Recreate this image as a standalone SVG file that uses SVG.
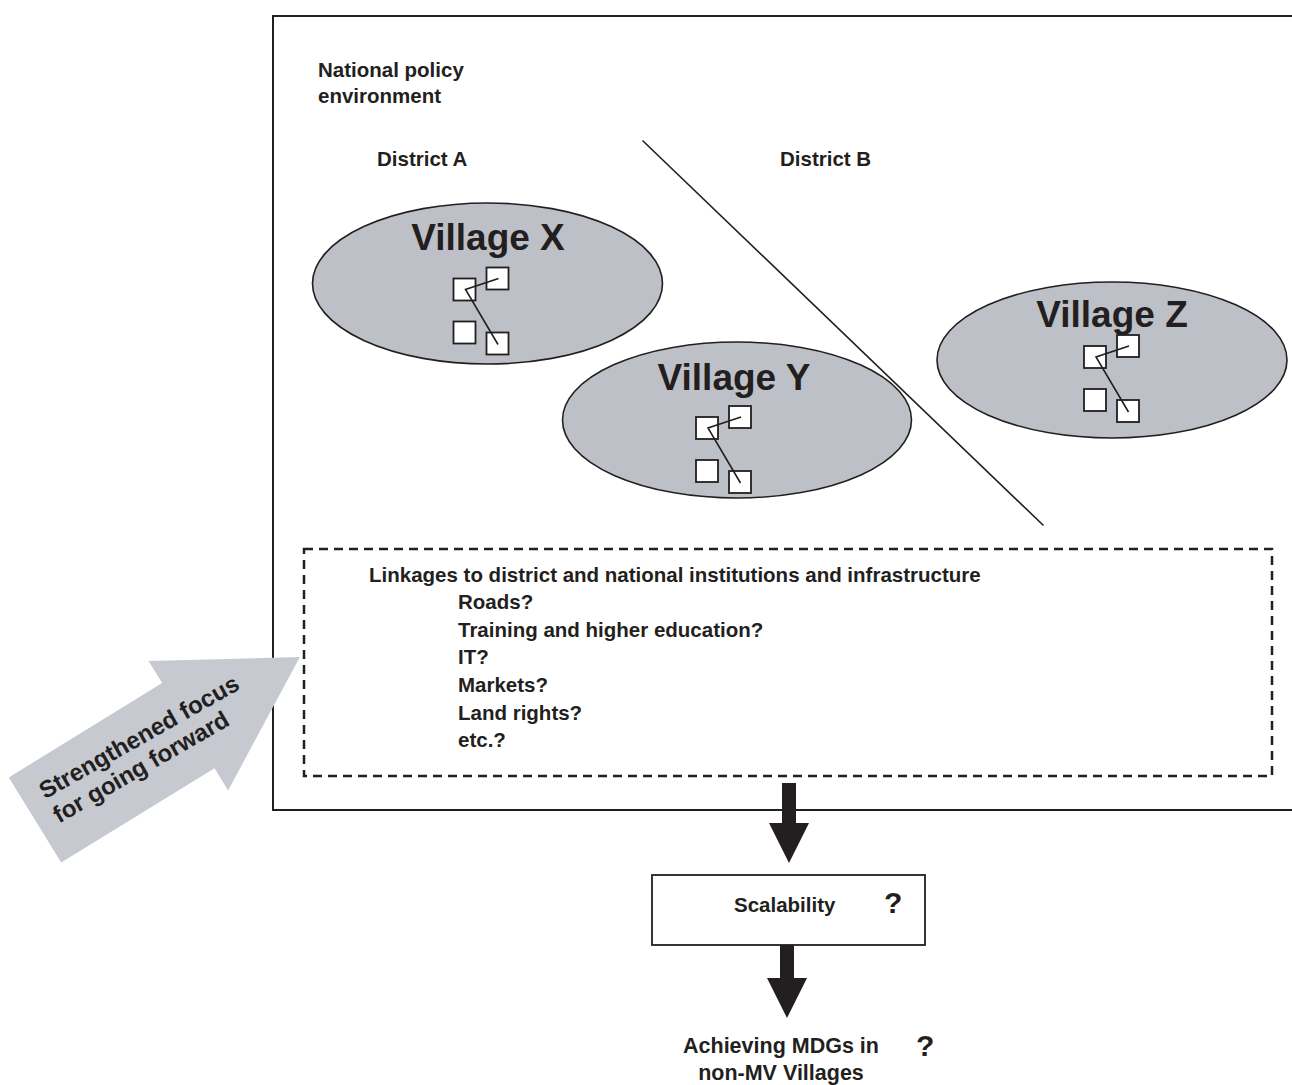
<svg xmlns="http://www.w3.org/2000/svg" width="1292" height="1085" viewBox="0 0 1292 1085">
<style>
text{font-family:"Liberation Sans",Arial,sans-serif;font-weight:bold;fill:#231f20}
.t{font-size:20.5px}
.vt{font-size:37px;text-anchor:middle}
.q{font-size:30px}
.ell{fill:#bec0c7;stroke:#231f20;stroke-width:1.6}
.sq{fill:#fff;stroke:#231f20;stroke-width:1.8}
.ln{stroke:#231f20;stroke-width:1.6;fill:none}
</style>
<defs>
<g id="cluster">
<rect class="sq" x="0" y="0" width="22" height="22"/>
<rect class="sq" x="33" y="-11" width="22" height="22"/>
<rect class="sq" x="0" y="43" width="22" height="22"/>
<rect class="sq" x="33" y="54" width="22" height="22"/>
<polyline class="ln" points="45,0 12,11 44.5,66"/>
</g>
</defs>
<rect width="1292" height="1085" fill="#fff"/>
<g id="outer">
<rect x="273" y="16" width="1040" height="794" fill="none" stroke="#231f20" stroke-width="2"/>
<text class="t" x="318" y="77">National policy</text>
<text class="t" x="318" y="103">environment</text>
</g>
<g id="districtA"><text class="t" x="377" y="166">District A</text></g>
<g id="districtB"><text class="t" x="780" y="166">District B</text></g>
<g id="divider"><line class="ln" x1="642.5" y1="140.5" x2="1043.5" y2="525.5"/></g>
<g id="villageX">
<ellipse class="ell" cx="487.5" cy="283.5" rx="175" ry="80.5"/>
<text class="vt" x="488" y="250">Village X</text>
<use href="#cluster" transform="translate(453.5,278.5)"/>
</g>
<g id="villageY">
<ellipse class="ell" cx="737" cy="420" rx="174.5" ry="78"/>
<text class="vt" x="734" y="390">Village Y</text>
<use href="#cluster" transform="translate(696,417)"/>
</g>
<g id="villageZ">
<ellipse class="ell" cx="1112" cy="360" rx="175" ry="78"/>
<text class="vt" x="1112" y="327">Village Z</text>
<use href="#cluster" transform="translate(1084,346)"/>
</g>
<g id="linkages">
<rect x="304" y="549" width="968" height="227" fill="none" stroke="#231f20" stroke-width="2.5" stroke-dasharray="9,6"/>
<text class="t" x="369" y="582">Linkages to district and national institutions and infrastructure</text>
<text class="t" x="458" y="609">Roads?</text>
<text class="t" x="458" y="637">Training and higher education?</text>
<text class="t" x="458" y="664">IT?</text>
<text class="t" x="458" y="692">Markets?</text>
<text class="t" x="458" y="720">Land rights?</text>
<text class="t" x="458" y="747">etc.?</text>
</g>
<g id="focusArrow">
<polygon transform="translate(35,820) rotate(-31.6)" points="0,-50 180,-50 180,-76 311,0 180,76 180,50 0,50" fill="#c6c9d0"/>
<text transform="translate(143,744) rotate(-29.5)" text-anchor="middle" font-size="24">Strengthened focus</text>
<text transform="translate(145,774) rotate(-30)" text-anchor="middle" font-size="24">for going forward</text>
</g>
<g id="scalability">
<rect x="652" y="875" width="273" height="70" fill="#fff" stroke="#231f20" stroke-width="1.8"/>
<text class="t" x="734" y="912">Scalability</text>
<text class="q" x="884" y="913">?</text>
</g>
<g id="mdgs">
<text x="781" y="1053" text-anchor="middle" font-size="21.5">Achieving MDGs in</text>
<text x="781" y="1080" text-anchor="middle" font-size="21.5">non-MV Villages</text>
<text class="q" x="916" y="1056">?</text>
</g>
<g id="connectors">
<polygon points="782,783 796,783 796,823 809,823 789,863 769,823 782,823" fill="#231f20"/>
<polygon points="780,945 794,945 794,978 807,978 787,1018 767,978 780,978" fill="#231f20"/>
</g>
</svg>
